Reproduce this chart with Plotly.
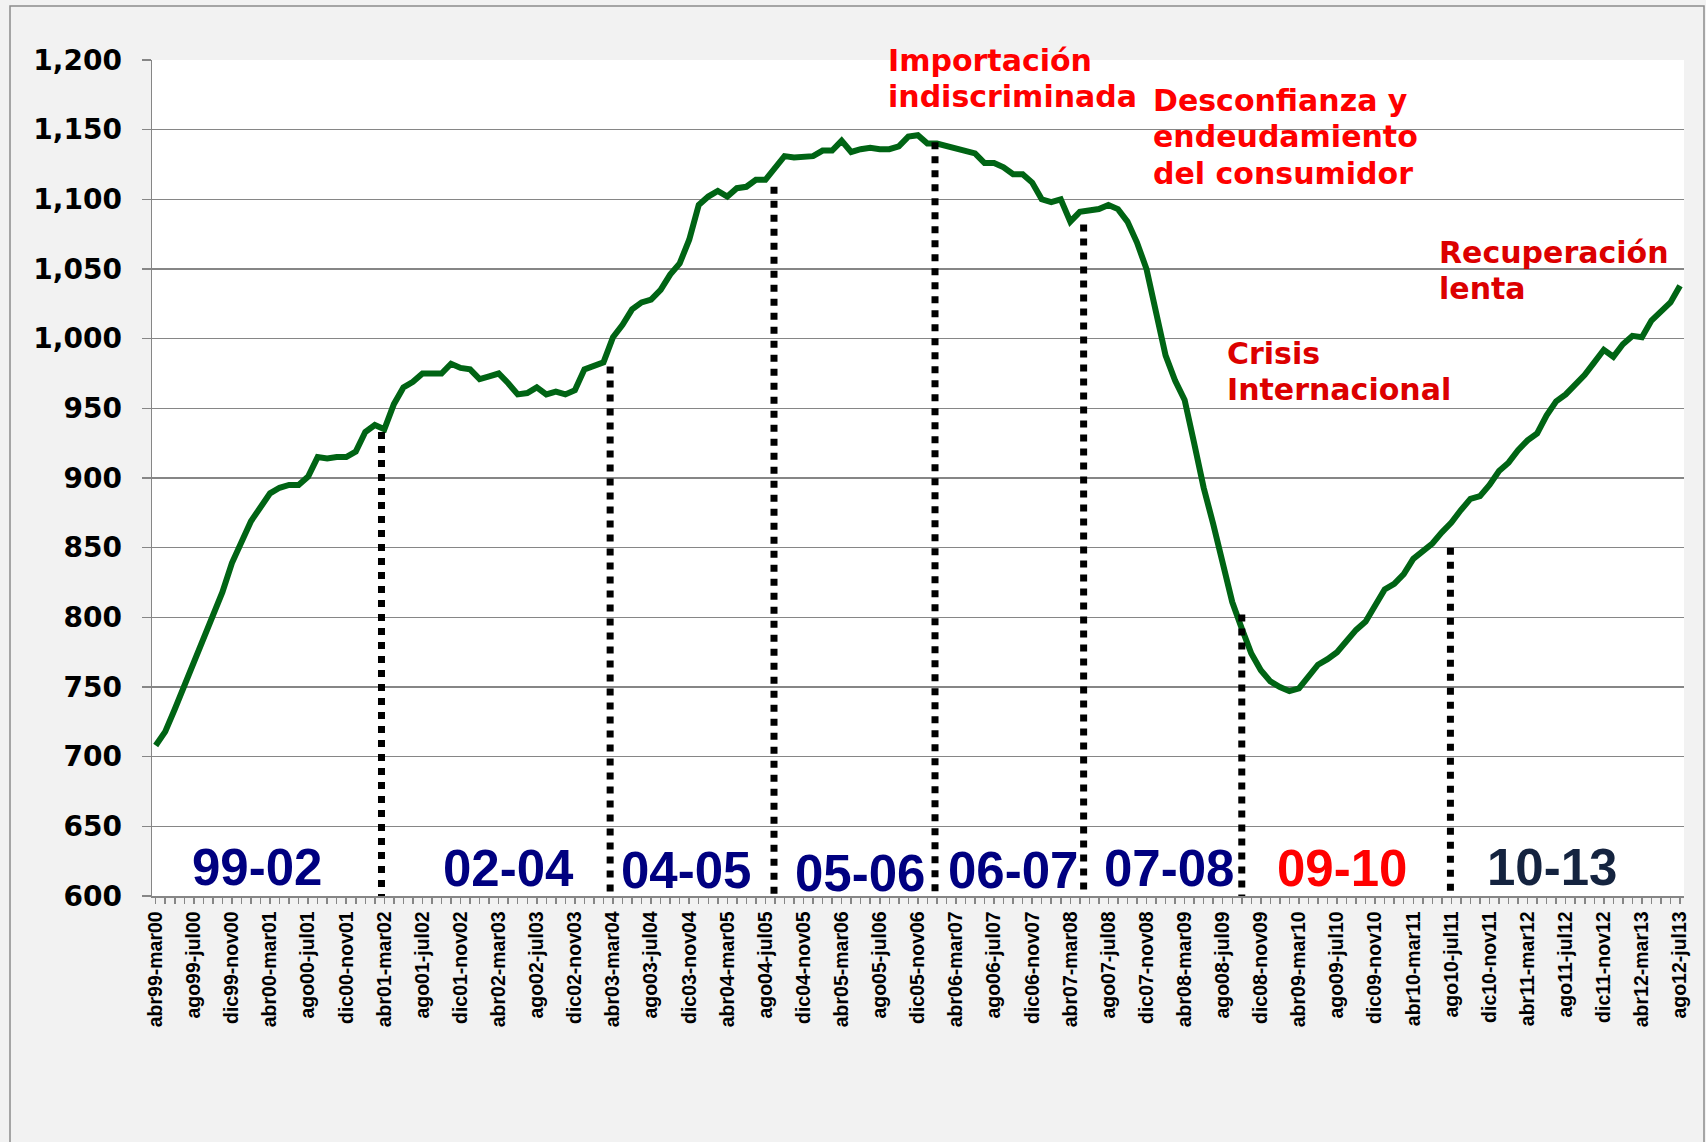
import plotly.graph_objects as go

# ---------------- data ----------------
tick_labels = [
    "abr99-mar00", "ago99-jul00", "dic99-nov00", "abr00-mar01", "ago00-jul01", "dic00-nov01",
    "abr01-mar02", "ago01-jul02", "dic01-nov02", "abr02-mar03", "ago02-jul03", "dic02-nov03",
    "abr03-mar04", "ago03-jul04", "dic03-nov04", "abr04-mar05", "ago04-jul05", "dic04-nov05",
    "abr05-mar06", "ago05-jul06", "dic05-nov06", "abr06-mar07", "ago06-jul07", "dic06-nov07",
    "abr07-mar08", "ago07-jul08", "dic07-nov08", "abr08-mar09", "ago08-jul09", "dic08-nov09",
    "abr09-mar10", "ago09-jul10", "dic09-nov10", "abr10-mar11", "ago10-jul11", "dic10-nov11",
    "abr11-mar12", "ago11-jul12", "dic11-nov12", "abr12-mar13", "ago12-jul13",
]

values = [
    708, 718, 734, 751, 768, 784, 800, 818, 839, 853,
    869, 879, 889, 893, 895, 895, 901, 915, 914, 915,
    915, 919, 933, 938, 935, 953, 965, 969, 975, 975,
    975, 982, 979, 978, 971, 973, 975, 968, 960, 961,
    965, 960, 962, 960, 963, 978, 981, 983, 1001, 1010,
    1021, 1026, 1028, 1035, 1046, 1054, 1071, 1096, 1102, 1106,
    1102, 1108, 1109, 1114, 1114, 1122, 1131, 1130, 1131, 1131,
    1135, 1135, 1142, 1134, 1136, 1137, 1136, 1136, 1138, 1145,
    1146, 1140, 1140, 1138, 1137, 1135, 1133, 1126, 1126, 1123,
    1118, 1118, 1112, 1100, 1098, 1100, 1084, 1091, 1092, 1093,
    1096, 1093, 1084, 1069, 1050, 1018, 988, 970, 956, 925,
    893, 867, 837, 811, 792, 774, 762, 754, 750, 747,
    749, 757, 766, 770, 775, 783, 791, 797, 809, 820,
    824, 831, 842, 847, 853, 861, 868, 877, 885, 887,
    895, 905, 911, 920, 927, 932, 945, 955, 960, 967,
    974, 983, 992, 987, 996, 1002, 1001, 1013, 1020, 1026,
    1038,
]

# period boundaries (category index) and the height the dotted divider reaches
divider_idx = [23.7, 47.7, 64.9, 81.8, 97.4, 114.0, 135.9]
divider_top = [933, 980, 1109, 1141, 1082, 802, 850]

period_labels = ["99-02", "02-04", "04-05", "05-06", "06-07", "07-08", "09-10", "10-13"]
period_colors = ["#000080", "#000080", "#000080", "#000080", "#000080", "#000080", "#FF0000", "#14233F"]

event_lines = [
    ["Importación", "indiscriminada"],
    ["Desconfianza y", "endeudamiento", "del consumidor"],
    ["Crisis", "Internacional"],
    ["Recuperación", "lenta"],
]
event_colors = ["#FF0000", "#FF0000", "#DC0000", "#DC0000"]

# ---------------- layout helpers (pixel placement of text) ----------------
W, H = 1706, 1142
PL, PR, PT, PB = 152, 1684, 60, 896          # plot area in pixels
X_FIRST_PX, X_STEP_PX = 155.7, 9.527           # category 0 position / spacing
Y_MIN, Y_MAX = 600, 1200


def px_x(px):
    return (px - X_FIRST_PX) / X_STEP_PX


def px_y(py):
    return Y_MAX - (py - PT) * (Y_MAX - Y_MIN) / (PB - PT)


x = list(range(len(values)))
ticktext = [tick_labels[i // 4] if i % 4 == 0 else "" for i in x]

fig = go.Figure()
fig.add_trace(go.Scatter(
    x=x, y=values, mode="lines",
    line=dict(color="#006414", width=6),
    hoverinfo="skip", showlegend=False,
))

grid_col = "#868686"
fig.update_layout(
    width=W, height=H,
    margin=dict(l=PL, r=W - PR, t=PT, b=H - PB, pad=0),
    paper_bgcolor="#F2F2F2",
    plot_bgcolor="#FFFFFF",
    showlegend=False,
    xaxis=dict(
        range=[px_x(PL), px_x(PR)],
        tickmode="array", tickvals=x, ticktext=ticktext,
        tickangle=-90,
        ticks="outside", ticklen=6, tickwidth=1.5, tickcolor=grid_col,
        showgrid=False, zeroline=False,
        showline=True, linecolor=grid_col, linewidth=1.5,
        tickfont=dict(family="Liberation Sans, Arial, sans-serif", size=19.5, color="#000000", weight="bold"),
        ticklabelstandoff=0,
        fixedrange=True,
    ),
    yaxis=dict(
        range=[Y_MIN, Y_MAX],
        tickmode="linear", tick0=600, dtick=50,
        tickformat=",",
        ticks="outside", ticklen=9, tickwidth=1.5, tickcolor=grid_col,
        showgrid=True, gridcolor=grid_col, gridwidth=1.5,
        zeroline=False,
        showline=True, linecolor=grid_col, linewidth=1.5,
        tickfont=dict(family="DejaVu Sans, sans-serif", size=28, color="#000000", weight="bold"),
        ticklabelstandoff=14,
        fixedrange=True,
    ),
)

# outer frame border
fig.add_shape(
    type="rect", xref="paper", yref="paper",
    x0=(10 - PL) / (PR - PL), x1=(1704 - PL) / (PR - PL),
    y0=(PB - 1160) / (PB - PT), y1=(PB - 6) / (PB - PT),
    line=dict(color="#8C8C8C", width=1.5), fillcolor="rgba(0,0,0,0)", layer="below",
)

# dotted dividers
for xi, top in zip(divider_idx, divider_top):
    fig.add_shape(
        type="line", xref="x", yref="y",
        x0=xi, x1=xi, y0=top, y1=Y_MIN,
        line=dict(color="#000000", width=7, dash="7px,7px"),
        layer="above",
    )

# period labels (centre pixel positions)
period_pos = [(257, 867), (508, 868), (686, 870), (860, 873),
              (1013, 870), (1169, 868), (1342, 868), (1552, 867)]
for lab, col, (cx, cy) in zip(period_labels, period_colors, period_pos):
    fig.add_annotation(
        x=px_x(cx), y=px_y(cy), xref="x", yref="y",
        text=lab, showarrow=False, xanchor="center", yanchor="middle",
        font=dict(family="Liberation Sans, Arial, sans-serif", size=51, color=col, weight="bold"),
    )

# event annotations: left pixel, and centre pixel of each line
event_pos = [
    (886, [60, 96]),
    (1151, [100, 136, 173]),
    (1225, [353, 389]),
    (1437, [252, 288]),
]
for lines, col, (lx, ys) in zip(event_lines, event_colors, event_pos):
    for txt, cy in zip(lines, ys):
        fig.add_annotation(
            x=px_x(lx), y=px_y(cy), xref="x", yref="y",
            text=txt, showarrow=False, xanchor="left", yanchor="middle",
            font=dict(family="DejaVu Sans, sans-serif", size=30, color=col, weight="bold"),
        )

fig.write_html(
    "out.html",
    config={"displayModeBar": False, "staticPlot": True},
    post_script="document.body.style.margin='0';document.body.style.overflow='hidden';",
)
